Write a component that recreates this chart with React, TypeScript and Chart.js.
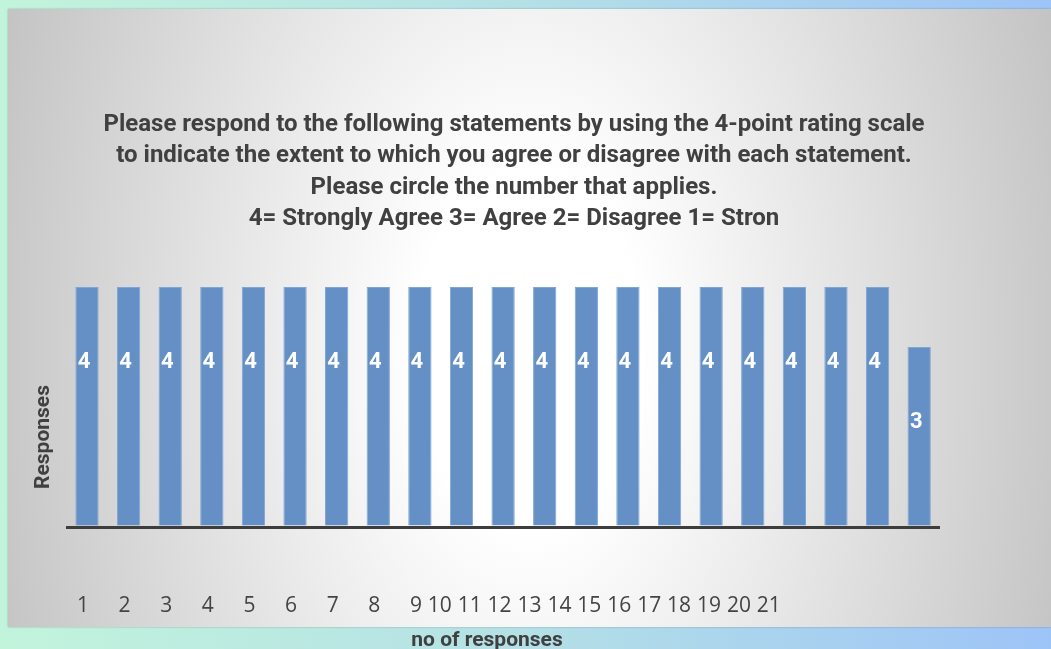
import React, { useEffect, useRef } from 'react';
import { Chart, registerables } from 'chart.js';

Chart.register(...registerables);

// ---- data ----
const categories = ['1', '2', '3', '4', '5', '6', '7', '8', '9', '10', '11', '12', '13', '14', '15', '16', '17', '18', '19', '20', '21'];
const responses = [4, 4, 4, 4, 4, 4, 4, 4, 4, 4, 4, 4, 4, 4, 4, 4, 4, 4, 4, 4, 3];
const titleLines = [
  'Please respond to the following statements by using the 4-point rating scale',
  'to indicate the extent to which you agree or disagree with each statement.',
  'Please circle the number that applies.',
  '4= Strongly Agree 3= Agree 2= Disagree 1= Stron',
];
const xAxisTitle = 'no of responses';
const yAxisTitle = 'Responses';
const yMin = -1;
const yMax = 4;

const TEXT = '#404040';

const textPlugin = {
  id: 'textPlugin',
  afterDatasetsDraw(chart: any) {
    const ctx: CanvasRenderingContext2D = chart.ctx;
    const xs = chart.scales.x;
    const ys = chart.scales.y;
    const meta = chart.getDatasetMeta(0);
    ctx.save();

    // value labels inside bars
    ctx.fillStyle = '#ffffff';
    ctx.font = 'bold 22px Roboto';
    ctx.textAlign = 'center';
    ctx.textBaseline = 'middle';
    meta.data.forEach((el: any, i: number) => {
      const v = responses[i];
      ctx.fillText(String(v), el.x - 3, ys.getPixelForValue(v) + 75);
    });

    // main title
    ctx.fillStyle = TEXT;
    ctx.font = 'bold 24px Roboto';
    ctx.textAlign = 'center';
    ctx.textBaseline = 'alphabetic';
    titleLines.forEach((line, i) => {
      ctx.fillText(line, 514, 131 + i * 31.3);
    });

    // category labels (first ones under their bars, the rest run on)
    ctx.font = '21px "Open Sans"';
    ctx.fillStyle = '#444444';
    ctx.textBaseline = 'alphabetic';
    const gap = 5.9;
    let cursor = 0;
    categories.forEach((lab, i) => {
      const w = ctx.measureText(lab).width;
      if (i < 9) {
        const cx = xs.getPixelForValue(i) - 4;
        ctx.textAlign = 'center';
        ctx.fillText(lab, cx, 612);
        cursor = cx + w / 2 + gap;
      } else {
        ctx.textAlign = 'left';
        ctx.fillText(lab, cursor, 612);
        cursor += w + gap;
      }
    });

    // x axis title
    ctx.font = 'bold 21px Roboto';
    ctx.fillStyle = TEXT;
    ctx.textAlign = 'center';
    ctx.fillText(xAxisTitle, 487, 646);

    ctx.restore();
  },
};

export default function App() {
  const ref = useRef<HTMLCanvasElement | null>(null);

  useEffect(() => {
    if (!ref.current) return;
    const chart = new Chart(ref.current, {
      type: 'bar',
      data: {
        labels: categories,
        datasets: [
          {
            label: 'Responses',
            data: responses,
            backgroundColor: '#6590c5',
            borderColor: '#7fa6d6',
            borderWidth: 1,
            barPercentage: 0.56,
            categoryPercentage: 1,
          },
        ],
      },
      options: {
        responsive: false,
        maintainAspectRatio: false,
        animation: false,
        devicePixelRatio: 1,
        layout: { padding: { left: 27, right: 111, top: 287, bottom: 62 } },
        plugins: {
          legend: { display: false },
          title: { display: false },
          tooltip: { enabled: false },
        },
        scales: {
          x: { display: false },
          y: {
            min: yMin,
            max: yMax,
            ticks: { display: false, stepSize: 1 },
            border: { display: false },
            grid: {
              drawTicks: false,
              tickLength: 0,
              lineWidth: 3,
              color: (c: any) => (c.tick && c.tick.value === 0 ? '#3d3d3d' : 'rgba(0,0,0,0)'),
            },
            title: {
              display: true,
              text: yAxisTitle,
              color: TEXT,
              font: { family: 'Roboto', size: 21, weight: 'bold', lineHeight: 1.2 },
              padding: { top: 4, bottom: 10 },
            },
          },
        },
      },
      plugins: [textPlugin],
    });
    return () => chart.destroy();
  }, []);

  return (
    <div
      style={{
        position: 'absolute',
        left: 0,
        top: 0,
        width: 1051,
        height: 649,
        overflow: 'hidden',
        background: 'linear-gradient(90deg, #c2f4dc 0%, #b4e0e6 50%, #9dc4f7 100%)',
      }}
    >
      <div
        style={{
          position: 'absolute',
          left: 8,
          top: 9,
          width: 1043,
          height: 618,
          background:
            'radial-gradient(560px 900px at 50% 55%, #ffffff 0%, #ffffff 20%, #c4c4c4 100%)',
          boxShadow: '0 0 2px rgba(0,0,0,0.25)',
        }}
      />
      <canvas
        ref={ref}
        width={1051}
        height={649}
        style={{ position: 'absolute', left: 0, top: 0, width: 1051, height: 649 }}
      />
    </div>
  );
}
